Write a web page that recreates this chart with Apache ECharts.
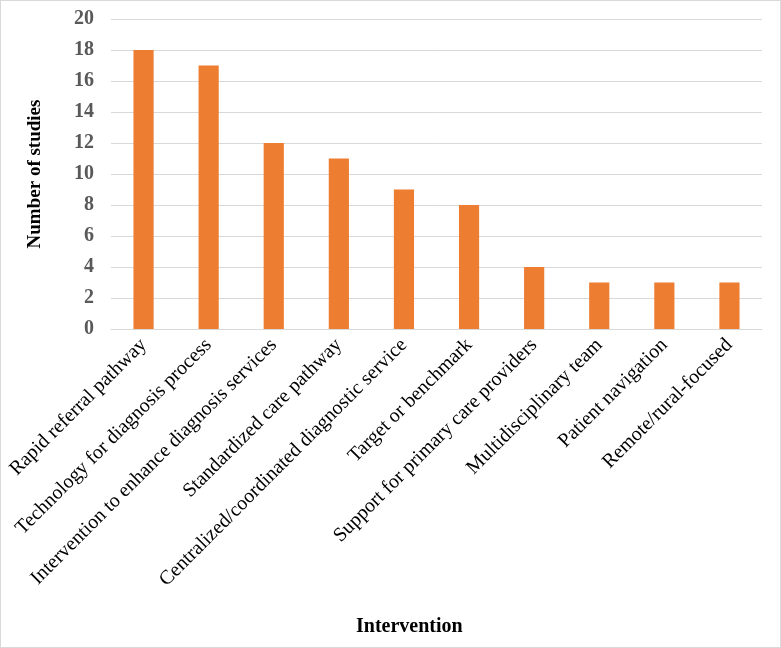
<!DOCTYPE html>
<html><head><meta charset="utf-8">
<script src="https://cdn.jsdelivr.net/npm/echarts@6/dist/echarts.min.js"></script>
<style>html,body{margin:0;padding:0;background:#fff}#c{width:781px;height:648px;box-sizing:border-box;border:1px solid #d9d9d9}</style>
</head><body><div id="c"></div>
<script>
const categories = ["Rapid referral pathway","Technology for diagnosis process","Intervention to enhance diagnosis services","Standardized care pathway","Centralized/coordinated diagnostic service","Target or benchmark","Support for primary care providers","Multidisciplinary team","Patient navigation","Remote/rural-focused"];
const values = [18,17,12,11,9,8,4,3,3,3];
const yTicks = {min:0,max:20,interval:2};
const chart = echarts.init(document.getElementById('c'));
const serif = '"Liberation Serif","Times New Roman",serif';
chart.setOption({
  animation:false,
  title:{text:'Intervention',left:350,top:611,
    textStyle:{fontFamily:serif,fontSize:20,fontWeight:'bold',color:'#000'}},
  grid:{left:110,right:18,top:18,bottom:318,containLabel:false},
  xAxis:{type:'category',data:categories,
    axisLine:{lineStyle:{color:'#d9d9d9',width:1}},axisTick:{show:false},
    axisLabel:{rotate:45,interval:0,fontFamily:serif,fontSize:20,color:'#000',margin:13}},
  yAxis:{type:'value',min:yTicks.min,max:yTicks.max,interval:yTicks.interval,
    axisLine:{show:false},axisTick:{show:false},
    splitLine:{lineStyle:{color:'#d9d9d9',width:1}},
    axisLabel:{fontFamily:serif,fontSize:20,fontWeight:'bold',color:'#595959',margin:17},
    name:'Number of studies',nameLocation:'middle',nameGap:66,
    nameTextStyle:{fontFamily:serif,fontSize:19,fontWeight:'bold',color:'#000'}},
  series:[{type:'bar',data:values,barWidth:'31%',itemStyle:{color:'#ED7D31'}}]
});
</script></body></html>
